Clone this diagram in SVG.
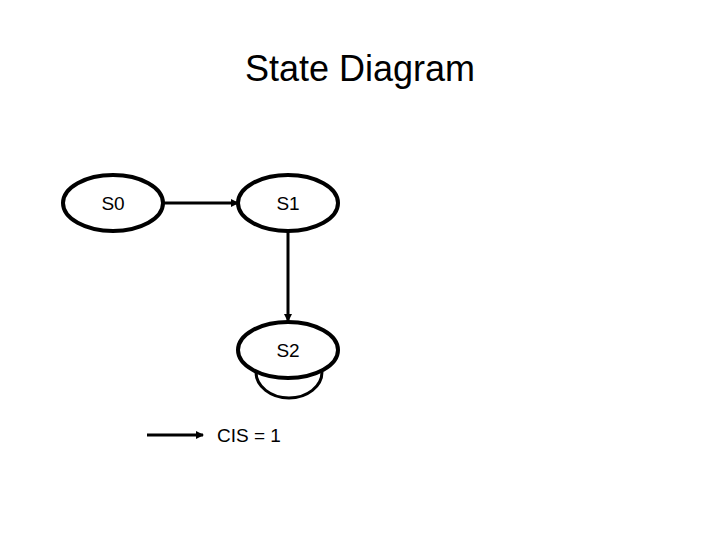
<svg xmlns="http://www.w3.org/2000/svg" width="720" height="540" viewBox="0 0 720 540">
<style>
.st{fill:#fff;stroke:#000;stroke-width:4}
.t{font-family:"Liberation Sans",Arial,sans-serif;font-size:19px;text-anchor:middle}
.c{fill:none;stroke:#000;stroke-width:3}
</style>
<defs><marker id="a" markerWidth="8" markerHeight="8" refX="7" refY="4" orient="auto" markerUnits="userSpaceOnUse"><path d="M0,0L8,4L0,8z"/></marker></defs>
<rect width="720" height="540" fill="#fff"/>
<text x="360" y="81" style="font-family:'Liberation Sans',Arial,sans-serif;font-size:36px;text-anchor:middle">State Diagram</text>
<g id="connectors">
<path class="c" d="M256,372 A33,26 0 1 0 322,372"/>
<line class="c" x1="163" y1="203" x2="238" y2="203" marker-end="url(#a)"/>
<line class="c" x1="288" y1="231" x2="288" y2="321" marker-end="url(#a)"/>
<line class="c" x1="147" y1="435" x2="203" y2="435" marker-end="url(#a)"/>
</g>
<g id="S0"><ellipse class="st" cx="113" cy="203" rx="50" ry="28"/><text class="t" x="113" y="210">S0</text></g>
<g id="S1"><ellipse class="st" cx="288" cy="203" rx="50" ry="28"/><text class="t" x="288" y="210">S1</text></g>
<g id="S2"><ellipse class="st" cx="288" cy="350" rx="50" ry="28"/><text class="t" x="288" y="357">S2</text></g>
<text class="t" x="249" y="442">CIS = 1</text>
</svg>
